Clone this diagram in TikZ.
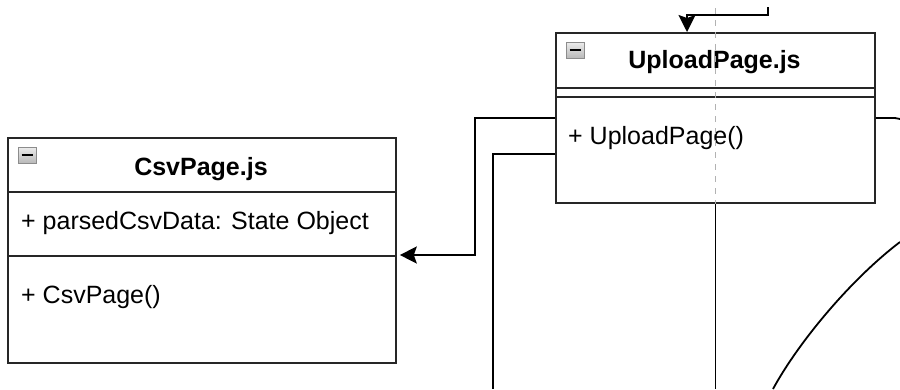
\documentclass[tikz,border=0pt]{standalone}
\usepackage{fontspec}
\setmainfont{Liberation Sans}
\usetikzlibrary{arrows.meta}

\tikzset{
  classbox/.style={draw=black!85, line width=1.8pt, fill=white, rectangle,
    inner sep=0pt, anchor=north west},
  divider/.style={draw=black!85, line width=1.8pt},
  member/.style={anchor=base west, inner sep=0pt,
    font=\fontsize{25}{30}\selectfont},
  title/.style={anchor=base, inner sep=0pt,
    font=\fontsize{25}{30}\selectfont\bfseries},
  minusicon/.style={draw=black!45, line width=1pt, rectangle, inner sep=0pt,
    minimum width=18pt, minimum height=16pt,
    top color=gray!15, bottom color=gray!55,
    path picture={\draw[line width=2pt, black]
      ([xshift=-5.5pt]path picture bounding box.center) --
      ([xshift=5.5pt]path picture bounding box.center);}},
  conn/.style={draw=black, line width=1.8pt},
  tip/.style={-{Stealth[length=17pt, width=17pt, inset=3pt]}},
  guide/.style={draw=black!30, line width=1.2pt, dash pattern=on 6pt off 6pt}
}

\begin{document}
\begin{tikzpicture}[x=1pt, y=-1pt]
  \useasboundingbox (0,0) rectangle (900,389);

  % UploadPage.js class box
  \node[classbox, minimum width=319pt, minimum height=170pt] (up) at (555,32) {};
  \draw[divider] (up.west |- 0,88) -- (up.east |- 0,88);
  \draw[divider] (up.west |- 0,97) -- (up.east |- 0,97);
  \node[minusicon] (upicon) at (575,50) {};
  \node[title] (uptitle) at (714.5,68) {UploadPage.js};
  \node[member] (upm1) at (568,144) {+ UploadPage()};

  % CsvPage.js class box
  \node[classbox, minimum width=388pt, minimum height=225pt] (csv) at (7,137) {};
  \draw[divider] (csv.west |- 0,192) -- (csv.east |- 0,192);
  \draw[divider] (csv.west |- 0,256) -- (csv.east |- 0,256);
  \node[minusicon] (csvicon) at (27,155) {};
  \node[title] (csvtitle) at (201,175) {CsvPage.js};
  \node[member] (csva1) at (21,229) {+ parsedCsvData: State Object};
  \node[member] (csvm1) at (21,303) {+ CsvPage()};

  % free ends of connectors leaving the visible area
  \coordinate (topsrc) at (768,7);
  \coordinate (downA) at (493,389);
  \coordinate (downB) at (up.south |- 0,389);
  \coordinate (rightout) at (900,119);
  \coordinate (arcA) at (773,389);
  \coordinate (arcB) at (900,242);
  \coordinate (guidetop) at (up.north |- 0,8);

  % lifeline guide through UploadPage.js
  \draw[guide] (guidetop) -- (up.south);

  % incoming connector from above
  \draw[conn, tip] (topsrc) |- (687,15) -- (687,0 |- up.north);

  % UploadPage.js -> CsvPage.js
  \draw[conn, tip, shorten >=3pt] (up.west |- 0,118) -| (475,255) -- (csv.east |- 0,255);

  % further connectors
  \draw[conn] (up.west |- 0,154) -| (downA);
  \draw[conn] (up.south) -- (downB);
  \draw[conn] (up.east |- 0,118) -- (890,118) .. controls (896,118) .. (rightout);
  \draw[conn] (arcA) .. controls (798,343) and (850,280) .. (arcB);
\end{tikzpicture}
\end{document}
